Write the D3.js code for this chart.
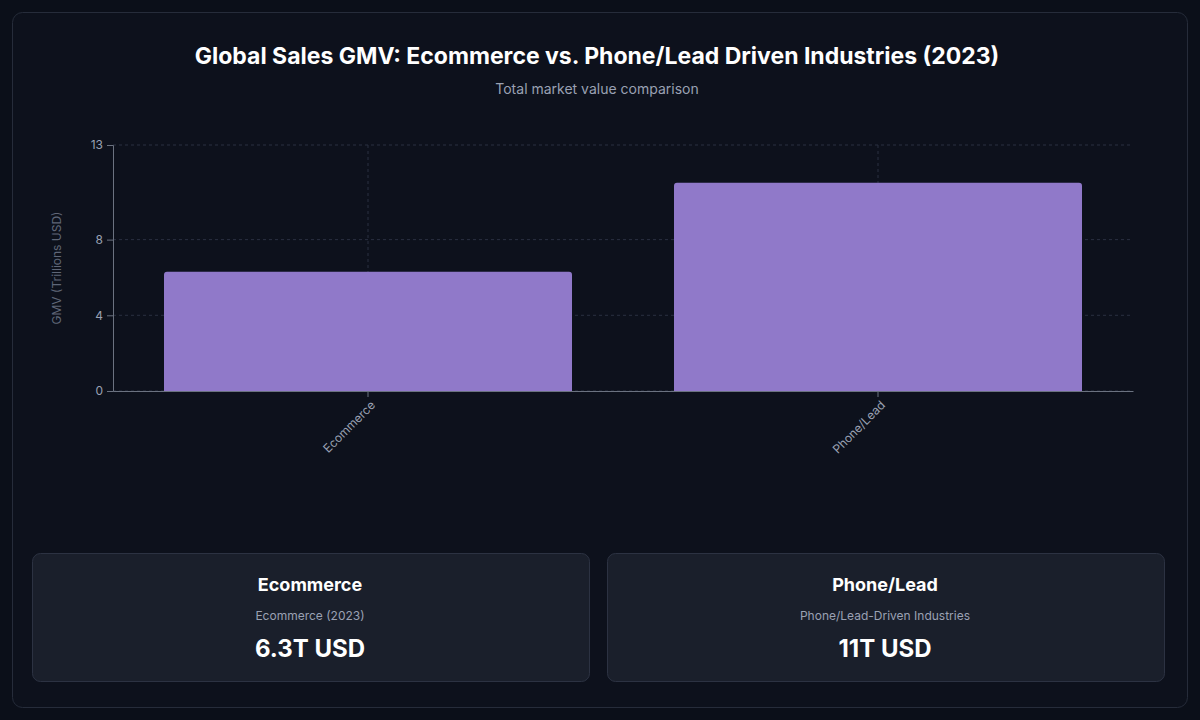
<!DOCTYPE html>
<html><head><meta charset="utf-8">
<script src="https://cdn.jsdelivr.net/npm/d3@7"></script>
<style>
body{margin:0;background:#0b0f19;font-family:Inter,"Noto Sans",sans-serif;}
</style></head>
<body><div id="chart"></div>
<script>
var categories = ["Ecommerce", "Phone/Lead"];
var values = [6.3, 11];
var yTicks = [0, 4, 8, 13];
var cardTitles = ["Ecommerce", "Phone/Lead"];
var cardSubtitles = ["Ecommerce (2023)", "Phone/Lead-Driven Industries"];
var cardValues = ["6.3T USD", "11T USD"];

var W = 1200, H = 720;
var svg = d3.select("#chart").append("svg").attr("width", W).attr("height", H);
svg.append("rect").attr("width", W).attr("height", H).attr("fill", "#0b0f19");
svg.append("rect").attr("x", 12.5).attr("y", 12.5).attr("width", 1175).attr("height", 695)
  .attr("rx", 10).attr("fill", "#0d111c").attr("stroke", "#262c3a");

svg.append("text").attr("x", 597).attr("y", 64).attr("text-anchor", "middle")
  .attr("fill", "#fff").attr("font-size", 23).attr("font-weight", 700)
  .text("Global Sales GMV: Ecommerce vs. Phone/Lead Driven Industries (2023)");
svg.append("text").attr("x", 597).attr("y", 94).attr("text-anchor", "middle")
  .attr("fill", "#9aa1b3").attr("font-size", 14).text("Total market value comparison");

var pLeft = 113, pRight = 1133, pTop = 145, pBottom = 391;
var x = d3.scaleBand().domain(categories).range([pLeft, pRight]).paddingInner(0.2).paddingOuter(0.1);
var y = d3.scaleLinear().domain([0, 13]).range([pBottom, pTop]);
var g = svg.append("g");

// grid
g.selectAll(".hg").data(yTicks).join("line")
  .attr("x1", pLeft).attr("x2", pRight).attr("y1", d => y(d)).attr("y2", d => y(d))
  .attr("stroke", "#2a3040").attr("stroke-dasharray", "3,3");
g.selectAll(".vg").data(categories).join("line")
  .attr("x1", d => x(d) + x.bandwidth() / 2).attr("x2", d => x(d) + x.bandwidth() / 2)
  .attr("y1", pTop).attr("y2", pBottom)
  .attr("stroke", "#2a3040").attr("stroke-dasharray", "3,3");

g.selectAll(".bar").data(values).join("path")
  .attr("fill", "#9079c9")
  .attr("d", (d, i) => {
    var x0 = x(categories[i]), w = x.bandwidth(), y0 = y(d), r = 3;
    return "M" + x0 + "," + pBottom + "V" + (y0 + r) + "Q" + x0 + "," + y0 + " " + (x0 + r) + "," + y0 +
      "H" + (x0 + w - r) + "Q" + (x0 + w) + "," + y0 + " " + (x0 + w) + "," + (y0 + r) + "V" + pBottom + "Z";
  });

var ya = g.append("g").attr("transform", "translate(" + pLeft + ",0)")
  .call(d3.axisLeft(y).tickValues(yTicks).tickSize(6).tickPadding(4));
var xa = g.append("g").attr("transform", "translate(0," + pBottom + ")")
  .call(d3.axisBottom(x).tickSize(6).tickSizeOuter(0));
[ya, xa].forEach(a => {
  a.selectAll("path,line").attr("stroke", "#6b7280");
  a.selectAll("text").attr("fill", "#9aa1b3").attr("font-size", 12).attr("font-family", "Inter,sans-serif");
});
xa.selectAll("text").attr("text-anchor", "end").attr("dx", "-0.4em").attr("dy", "0.6em")
  .attr("transform", "rotate(-45)");

svg.append("text").attr("transform", "translate(61," + ((pTop + pBottom) / 2) + ") rotate(-90)")
  .attr("text-anchor", "middle").attr("fill", "#5f6677").attr("font-size", 12)
  .text("GMV (Trillions USD)");

// cards
var cx = [32, 607];
cx.forEach((x0, i) => {
  var c = svg.append("g").attr("transform", "translate(" + x0 + ",553)");
  c.append("rect").attr("x", 0.5).attr("y", 0.5).attr("width", 557).attr("height", 128).attr("rx", 8)
    .attr("fill", "#1a1f2b").attr("stroke", "#2c3242");
  c.append("text").attr("x", 278).attr("y", 38).attr("text-anchor", "middle").attr("fill", "#fff")
    .attr("font-size", 18).attr("font-weight", 700).text(cardTitles[i]);
  c.append("text").attr("x", 278).attr("y", 67).attr("text-anchor", "middle").attr("fill", "#9aa1b3")
    .attr("font-size", 12).text(cardSubtitles[i]);
  c.append("text").attr("x", 278).attr("y", 104).attr("text-anchor", "middle").attr("fill", "#fff")
    .attr("font-size", 24).attr("font-weight", 700).text(cardValues[i]);
});
</script></body></html>
